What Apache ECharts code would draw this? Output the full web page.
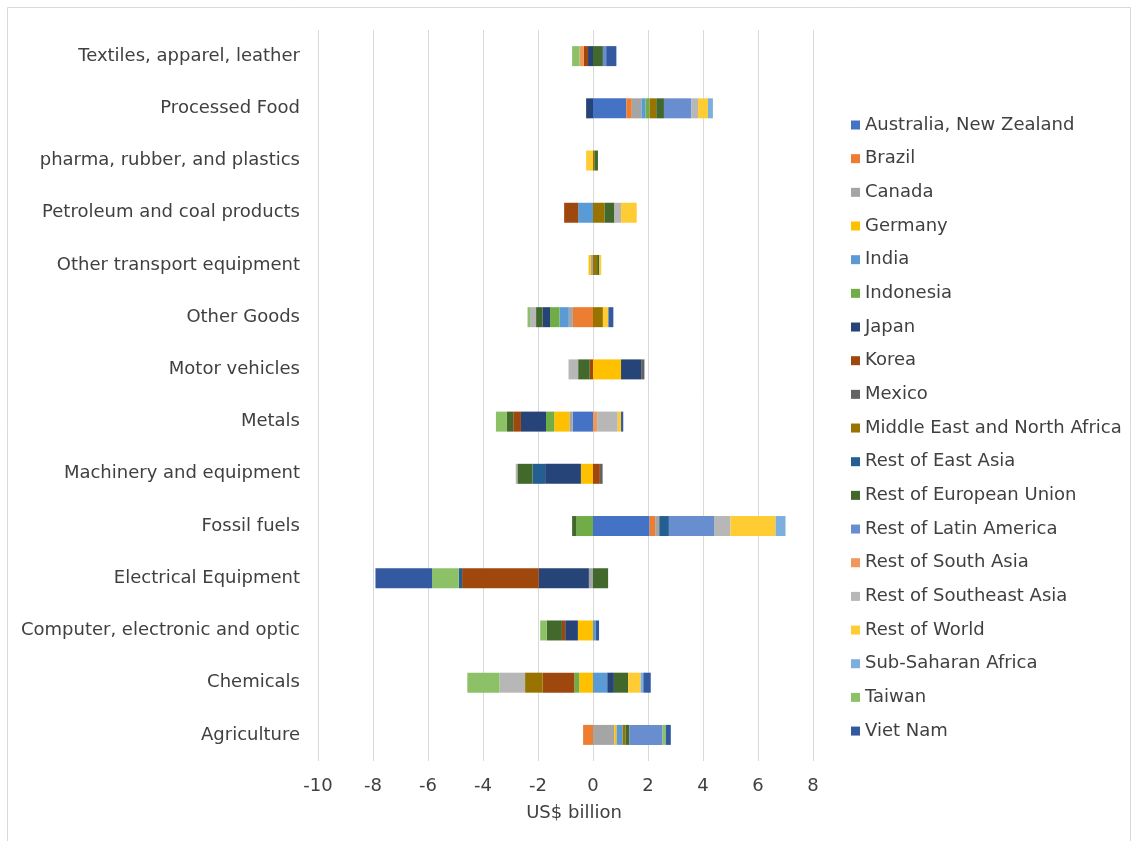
<!DOCTYPE html>
<html>
<head>
<meta charset="utf-8">
<script src="https://cdn.jsdelivr.net/npm/echarts@6/dist/echarts.min.js"></script>
<style>
  html, body { margin: 0; padding: 0; background: #ffffff; }
  #chart { width: 1132px; height: 841px; }
</style>
</head>
<body>
<div id="chart"></div>
<script>
// Categories listed bottom to top
const categories = ["Agriculture", "Chemicals", "Computer, electronic and optic", "Electrical Equipment",
  "Fossil fuels", "Machinery and equipment", "Metals", "Motor vehicles", "Other Goods",
  "Other transport equipment", "Petroleum and coal products", "pharma, rubber, and plastics",
  "Processed Food", "Textiles, apparel, leather"];

const xTicks = { min: -10, max: 8, interval: 2 };

const australiaNZ      = [0, 0, 0, 0, 2.06, 0, -0.74, 0, 0, 0, 0, 0, 1.21, 0];
const brazil           = [-0.36, 0, 0, 0, 0.2, 0, 0, 0, -0.73, 0, 0, 0, 0.2, 0];
const canada           = [0.78, 0, 0, -0.15, 0.15, 0, -0.12, 0, -0.15, -0.08, 0, 0, 0.35, 0];
const germany          = [0.08, -0.5, -0.55, 0, 0, -0.44, -0.55, 1.02, 0, -0.08, 0, 0, 0, 0];
const india            = [0.22, 0.52, 0.1, 0, 0, 0, 0, 0, -0.34, 0, -0.54, 0, 0.15, 0];
const indonesia        = [0, -0.18, 0, 0, -0.6, 0, -0.3, 0, -0.34, 0, 0, 0, 0.15, 0];
const japan            = [0, 0.24, -0.46, -1.82, 0, -1.3, -0.91, 0.73, -0.27, 0, 0, 0, -0.25, -0.18];
const korea            = [0, -1.15, -0.12, -2.79, 0, 0.25, -0.28, -0.12, 0, 0, -0.51, 0, 0, -0.15];
const mexico           = [0, 0, 0, 0, 0, 0.1, 0, 0.12, 0, 0, 0, 0, 0, 0];
const mena             = [0.1, -0.64, 0, 0, 0, 0, 0, 0, 0.36, 0.15, 0.42, 0.05, 0.24, 0];
const restEastAsia     = [0, 0, 0, -0.12, 0.35, -0.46, 0, 0, 0, 0, 0, 0, 0, 0];
const restEU           = [0.14, 0.52, -0.55, 0.55, -0.16, -0.55, -0.23, -0.42, -0.24, 0.08, 0.36, 0.13, 0.28, 0.36];
const restLatAm        = [1.21, 0, 0, 0, 1.64, 0, 0, 0, 0, 0, 0, 0, 1.0, 0.12];
const restSouthAsia    = [0, 0, 0, 0, 0, 0, 0.15, 0, 0, 0, 0, 0, 0, -0.16];
const restSEAsia       = [0, -0.93, 0, 0, 0.6, -0.06, 0.75, -0.35, -0.22, 0, 0.24, 0, 0.24, 0];
const restWorld        = [0, 0.45, 0, 0, 1.64, 0, 0.12, 0, 0.2, 0.07, 0.57, -0.25, 0.36, 0];
const subSaharan       = [0, 0.1, 0, 0, 0.36, 0, 0, 0, 0, 0, 0, 0, 0.18, 0];
const taiwan           = [0.12, -1.17, -0.24, -0.97, 0, 0, -0.4, 0, -0.09, 0, 0, 0, 0, -0.27];
const vietNam          = [0.18, 0.27, 0.12, -2.06, 0, 0, 0.08, 0, 0.18, 0, 0, 0, 0, 0.37];

const seriesNames = ["Australia, New Zealand", "Brazil", "Canada", "Germany", "India", "Indonesia",
  "Japan", "Korea", "Mexico", "Middle East and North Africa", "Rest of East Asia",
  "Rest of European Union", "Rest of Latin America", "Rest of South Asia",
  "Rest of Southeast Asia", "Rest of World", "Sub-Saharan Africa", "Taiwan", "Viet Nam"];
const seriesData = [australiaNZ, brazil, canada, germany, india, indonesia, japan, korea, mexico,
  mena, restEastAsia, restEU, restLatAm, restSouthAsia, restSEAsia, restWorld, subSaharan, taiwan, vietNam];
const colors = ["#4472C4", "#ED7D31", "#A5A5A5", "#FFC000", "#5B9BD5", "#70AD47", "#264478",
  "#9E480E", "#636363", "#997300", "#255E91", "#43682B", "#698ED0", "#F1975A", "#B7B7B7",
  "#FFCD33", "#7CAFDD", "#8CC168", "#335AA1"];

const FONT = "DejaVu Sans";
const TXT = "#404040";
const FS = 18;

const chart = echarts.init(document.getElementById('chart'), null, { renderer: 'canvas' });
chart.setOption({
  animation: false,
  backgroundColor: '#ffffff',
  color: colors,
  textStyle: { fontFamily: FONT },
  graphic: [{
    type: 'rect', silent: true, z: -10,
    shape: { x: 7.5, y: 7.5, width: 1123, height: 845 },
    style: { fill: 'none', stroke: '#d9d9d9', lineWidth: 1 }
  }],
  grid: { left: 318, right: 319, top: 30, bottom: 80, containLabel: false },
  legend: {
    orient: 'vertical', left: 846, top: 110,
    itemWidth: 9, itemHeight: 9, itemGap: 13.67,
    icon: 'rect',
    textStyle: { fontFamily: FONT, fontSize: FS, color: TXT, lineHeight: 20 },
    data: seriesNames
  },
  xAxis: {
    type: 'value', min: xTicks.min, max: xTicks.max, interval: xTicks.interval,
    axisLine: { show: false }, axisTick: { show: false },
    splitLine: { show: true, lineStyle: { color: '#d9d9d9', width: 1 } },
    axisLabel: { fontFamily: FONT, fontSize: FS, color: TXT, margin: 16 },
    name: 'US$ billion', nameLocation: 'middle', nameGap: 43,
    nameTextStyle: { fontFamily: FONT, fontSize: FS, color: TXT, padding: [0, 0, 0, 17] }
  },
  yAxis: {
    type: 'category', data: categories,
    axisLine: { show: false, onZero: false }, axisTick: { show: false },
    splitLine: { show: false },
    axisLabel: { fontFamily: FONT, fontSize: FS, color: TXT, margin: 18 }
  },
  series: seriesNames.map((name, i) => ({
    name: name, type: 'bar', stack: 'total', barWidth: 20,
    data: seriesData[i],
    itemStyle: { color: colors[i] },
    emphasis: { disabled: true }
  }))
});
</script>
</body>
</html>
